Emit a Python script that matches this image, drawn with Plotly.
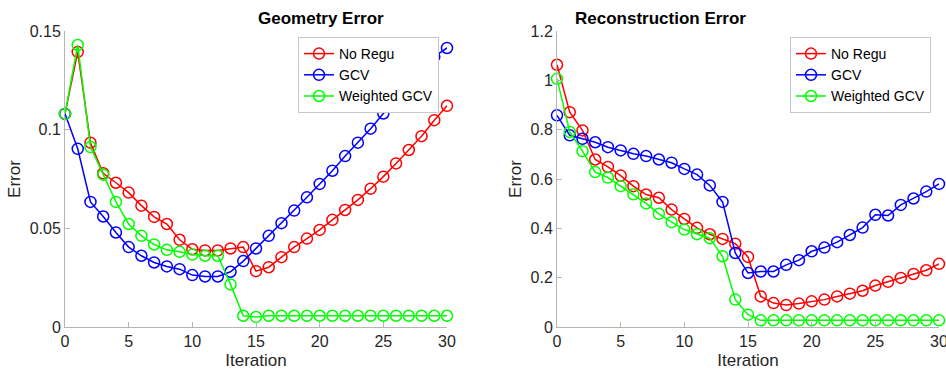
import plotly.graph_objects as go

iterations = list(range(31))

geo_no_regu = [0.108, 0.1394, 0.0934, 0.0779, 0.0731, 0.0681, 0.0615, 0.0558, 0.0522, 0.0442,
               0.0394, 0.0388, 0.0388, 0.0398, 0.0405, 0.0283, 0.0303, 0.0354, 0.0405, 0.0448,
               0.0492, 0.0543, 0.0593, 0.0644, 0.0701, 0.0762, 0.0829, 0.0897, 0.0967, 0.1048, 0.1121]
geo_gcv = [0.108, 0.0903, 0.0634, 0.0560, 0.0479, 0.0405, 0.0361, 0.0327, 0.0307, 0.0293,
           0.0263, 0.0256, 0.0256, 0.0280, 0.0334, 0.0398, 0.0462, 0.0526, 0.0590, 0.0657,
           0.0725, 0.0792, 0.0866, 0.0934, 0.1005, 0.1082, 0.1166, 0.1245, 0.1320, 0.1370, 0.1414]
geo_wgcv = [0.108, 0.1429, 0.0912, 0.0772, 0.0634, 0.0522, 0.0462, 0.0418, 0.0391, 0.0381,
            0.0367, 0.0361, 0.0361, 0.0216, 0.0057, 0.0051, 0.0057, 0.0057, 0.0057, 0.0057,
            0.0057, 0.0057, 0.0057, 0.0057, 0.0057, 0.0057, 0.0057, 0.0057, 0.0057, 0.0057, 0.0057]

rec_no_regu = [1.063, 0.871, 0.797, 0.679, 0.649, 0.614, 0.571, 0.537, 0.524, 0.476,
               0.438, 0.402, 0.376, 0.357, 0.338, 0.284, 0.124, 0.097, 0.089, 0.095,
               0.104, 0.111, 0.124, 0.135, 0.147, 0.168, 0.183, 0.199, 0.215, 0.230, 0.256]
rec_gcv = [0.858, 0.777, 0.763, 0.749, 0.729, 0.716, 0.702, 0.693, 0.679, 0.666,
           0.641, 0.618, 0.574, 0.507, 0.300, 0.219, 0.225, 0.225, 0.252, 0.271,
           0.307, 0.322, 0.344, 0.373, 0.403, 0.455, 0.452, 0.495, 0.521, 0.549, 0.580]
rec_wgcv = [1.006, 0.791, 0.713, 0.628, 0.606, 0.571, 0.538, 0.501, 0.459, 0.425,
            0.395, 0.376, 0.360, 0.287, 0.111, 0.050, 0.027, 0.027, 0.027, 0.027,
            0.027, 0.027, 0.027, 0.027, 0.027, 0.027, 0.027, 0.027, 0.027, 0.027, 0.027]

series_names = ["No Regu", "GCV", "Weighted GCV"]
colors = ["#FF0000", "#0000FF", "#00FF00"]

x_ticks = [0, 5, 10, 15, 20, 25, 30]
geo_ticks = [0, 0.05, 0.1, 0.15]
geo_labels = ["0", "0.05", "0.1", "0.15"]
rec_ticks = [0, 0.2, 0.4, 0.6, 0.8, 1.0, 1.2]
rec_labels = ["0", "0.2", "0.4", "0.6", "0.8", "1", "1.2"]

FONT = "Liberation Sans, Arial, sans-serif"
TXT = "#262626"
AXC = "#b5b5b5"

fig = go.Figure()

for name, col, ys in zip(series_names, colors, [geo_no_regu, geo_gcv, geo_wgcv]):
    fig.add_trace(go.Scatter(x=iterations, y=ys, name=name, mode="lines+markers",
                             line=dict(color=col, width=1.5),
                             marker=dict(symbol="circle-open", size=11, color=col, line=dict(width=1.5)),
                             cliponaxis=False, xaxis="x", yaxis="y", legend="legend"))
for name, col, ys in zip(series_names, colors, [rec_no_regu, rec_gcv, rec_wgcv]):
    fig.add_trace(go.Scatter(x=iterations, y=ys, name=name, mode="lines+markers",
                             line=dict(color=col, width=1.5),
                             marker=dict(symbol="circle-open", size=11, color=col, line=dict(width=1.5)),
                             cliponaxis=False, xaxis="x2", yaxis="y2", legend="legend2"))

def xax(domain, anchor):
    return dict(domain=domain, anchor=anchor, range=[0, 30], tickvals=x_ticks,
                showline=True, linecolor=AXC, linewidth=1, ticks="inside", ticklen=5,
                tickcolor=AXC, showgrid=False, zeroline=False, automargin=False,
                ticklabeloverflow="allow",
                tickfont=dict(size=16, color=TXT, family=FONT),
                title=dict(text="Iteration", font=dict(size=17, color=TXT, family=FONT), standoff=4))

def yax(domain, anchor, rng, tv, tt):
    return dict(domain=domain, anchor=anchor, range=rng, tickvals=tv, ticktext=tt,
                showline=True, linecolor=AXC, linewidth=1, ticks="inside", ticklen=5,
                tickcolor=AXC, showgrid=False, zeroline=False, automargin=False,
                ticklabeloverflow="allow",
                tickfont=dict(size=16, color=TXT, family=FONT),
                title=dict(text="Error", font=dict(size=17, color=TXT, family=FONT), standoff=4))

L, R, T, B = 65, 7, 31, 44
W, H = 946, 371
pw = W - L - R
ph = H - T - B
d1 = [0, (447 - L) / pw]
d2 = [(557 - L) / pw, 1]

legend_common = dict(bgcolor="white", bordercolor="#c8c8c8", borderwidth=1,
                     font=dict(size=14, color="#000000", family=FONT),
                     xanchor="right", yanchor="top", itemwidth=30, tracegroupgap=0)

fig.update_layout(
    width=W, height=H, margin=dict(l=L, r=R, t=T, b=B, autoexpand=False),
    paper_bgcolor="white", plot_bgcolor="white",
    xaxis=xax(d1, "y"), yaxis=yax([0, 1], "x", [0, 0.15], geo_ticks, geo_labels),
    xaxis2=xax(d2, "y2"), yaxis2=yax([0, 1], "x2", [0, 1.2], rec_ticks, rec_labels),
    legend=dict(x=(439 - L) / pw, y=1 - (37 - T) / ph, **legend_common),
    legend2=dict(x=(931 - L) / pw, y=1 - (37 - T) / ph, **legend_common),
    showlegend=True,
    annotations=[
        dict(text="<b>Geometry Error</b>", x=(d1[0] + d1[1]) / 2, y=1 + (31 - 19) / ph,
             xref="paper", yref="paper", showarrow=False, yanchor="middle",
             font=dict(size=17, color="#000000", family=FONT)),
        dict(text="<b>Reconstruction Error</b>", x=(d2[0] + d2[1]) / 2, y=1 + (31 - 19) / ph,
             xref="paper", yref="paper", showarrow=False, yanchor="middle",
             font=dict(size=17, color="#000000", family=FONT)),
    ],
)

fig.write_html("out.html", config={"displayModeBar": False},
               post_script="document.body.style.margin='0';document.body.style.overflow='hidden';")
